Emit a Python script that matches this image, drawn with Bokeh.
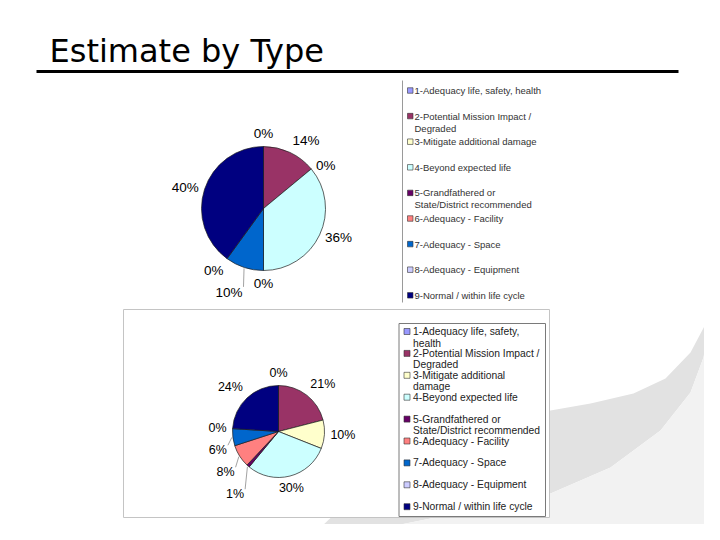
import numpy as np
from bokeh.plotting import figure
from bokeh.models import Range1d, ColumnDataSource
from bokeh.embed import file_html
from bokeh.resources import INLINE
from bokeh.core.properties import value

# ---------------- data ----------------
title = "Estimate by Type"
categories = [
    "1-Adequacy life, safety, health",
    "2-Potential Mission Impact / Degraded",
    "3-Mitigate additional damage",
    "4-Beyond expected life",
    "5-Grandfathered or State/District recommended",
    "6-Adequacy - Facility",
    "7-Adequacy - Space",
    "8-Adequacy - Equipment",
    "9-Normal / within life cycle",
]
top_values = [0, 14, 0, 36, 0, 0, 10, 0, 40]
bottom_values = [0, 21, 10, 30, 1, 8, 6, 0, 24]
top_legend_labels = [
    "1-Adequacy life, safety, health",
    "2-Potential Mission Impact /\nDegraded",
    "3-Mitigate additional damage",
    "4-Beyond expected life",
    "5-Grandfathered or\nState/District recommended",
    "6-Adequacy - Facility",
    "7-Adequacy - Space",
    "8-Adequacy - Equipment",
    "9-Normal / within life cycle",
]
bottom_legend_labels = [
    "1-Adequacy life, safety,\nhealth",
    "2-Potential Mission Impact /\nDegraded",
    "3-Mitigate additional\ndamage",
    "4-Beyond expected life",
    "5-Grandfathered or\nState/District recommended",
    "6-Adequacy - Facility",
    "7-Adequacy - Space",
    "8-Adequacy - Equipment",
    "9-Normal / within life cycle",
]
colors = ["#9999FF", "#993366", "#FFFFCC", "#CCFFFF", "#660066",
          "#FF8080", "#0066CC", "#CCCCFF", "#000080"]

FONT = "Liberation Sans"

# page coordinates: x to the right, y downward (converted for Bokeh)
def Y(v):
    return 540 - np.asarray(v, dtype=float)

p = figure(width=704, height=524, x_range=Range1d(0, 704), y_range=Range1d(16, 540),
           output_backend="svg", toolbar_location=None, min_border=0,
           x_axis_location=None, y_axis_location=None, outline_line_color=None,
           background_fill_color="white", border_fill_color="white")
p.grid.visible = False

# ---------------- slide decoration (hazard border + page curl) ----------------
p.quad(left=[270], right=[730], top=[Y(225)], bottom=[Y(550)],
       fill_color="#F39224", line_color=None)
sx, sy = [], []
for x0 in np.arange(60, 900, 30):
    sx.append([x0, x0 + 420])
    sy.append(list(Y([560, 140])))
p.multi_line(xs=sx, ys=sy, line_color="#141414", line_width=10)

page_x = [0, 720, 720, 716, 712, 710, 710, 370, 330, 300, 0]
page_y = [0, 0, 245, 268, 295, 320, 527, 527, 534, 540, 540]
p.patch(page_x, Y(page_y), fill_color="white", line_color=None)

band_x = [720, 713, 707, 690, 665, 633, 590, 550, 470, 380, 320, 400, 480, 550, 610, 660, 690, 703, 712]
band_y = [250, 300, 320, 352, 378, 393, 403, 410, 430, 470, 527, 524, 508, 493, 467, 430, 392, 357, 300]
p.patch(band_x, Y(band_y), fill_color="#e2e2e2", line_color=None)
low_x = [400, 480, 550, 610, 660, 690, 703, 708, 708, 400]
low_y = [524, 508, 493, 467, 430, 392, 357, 340, 527, 527]
p.patch(low_x, Y(low_y), fill_color="#f2f2f2", line_color=None)
p.line([709, 709, 370], Y([330, 527, 527]), line_color="#c4c4c4", line_width=3)
p.line([708, 708, 370], Y([330, 526, 526]), line_color="#a0a0a0", line_width=1)

# ---------------- title ----------------
p.text(x=[49], y=[Y(50)], text=[title], text_font=value("DejaVu Sans"),
       text_font_size=value("32px"), text_color="black",
       text_baseline="middle", text_align="left")
p.line([36, 678], Y([71, 71]), line_color="black", line_width=3)

# ---------------- bottom chart frames ----------------
p.quad(left=[123], right=[549], top=[Y(309)], bottom=[Y(517)],
       fill_color="white", line_color="#c4c4c4", line_width=1)
p.quad(left=[398.5], right=[545], top=[Y(323)], bottom=[Y(516)],
       fill_color="white", line_color="#7a7a7a", line_width=1)
# top legend left border
p.line([402, 402], Y([80, 302]), line_color="#9a9a9a", line_width=1)


def draw_pie(cx, cy, r, vals, fs, gap=22):
    vals = np.asarray(vals, dtype=float)
    frac = vals / vals.sum()
    cum = np.concatenate([[0.0], np.cumsum(frac)])
    a0 = np.pi / 2 - 2 * np.pi * cum[:-1]
    a1 = np.pi / 2 - 2 * np.pi * cum[1:]
    keep = vals > 0
    n = int(keep.sum())
    src = ColumnDataSource(dict(x=[cx] * n, y=list(Y([cy] * n)), s=list(a0[keep]),
                                e=list(a1[keep]), c=[c for c, k in zip(colors, keep) if k]))
    p.wedge(x="x", y="y", radius=r, start_angle="s", end_angle="e", direction="clock",
            fill_color="c", line_color="#1e1e1e", line_width=0.7, source=src)

    mid = np.pi * (cum[:-1] + cum[1:])
    sn, cs = np.sin(mid), np.cos(mid)
    ra = r + 6
    ax = cx + ra * sn
    ay = cy - ra * cs
    half = fs * 0.5
    ly = np.where(cs > 0.7, ay - half, np.where(cs < -0.7, ay + half, ay))
    align = ["left" if s > 0.25 else ("right" if s < -0.25 else "center") for s in sn]
    pushed = ly.copy()
    prev = None
    for i in np.argsort(ly, kind="stable"):
        if sn[i] >= -0.25:
            continue
        if prev is not None and pushed[i] < pushed[prev] + gap:
            pushed[i] = pushed[prev] + gap
        prev = i
    texts = [f"{int(round(f * 100))}%" for f in frac]
    drawn = []
    lx, lyy, lt, la = [], [], [], []
    for i in range(len(vals)):
        if any(abs(ax[i] - dx) < 4 and abs(pushed[i] - dy) < 4 for dx, dy in drawn):
            continue
        drawn.append((ax[i], pushed[i]))
        lx.append(ax[i]); lyy.append(pushed[i]); lt.append(texts[i]); la.append(align[i])
        if pushed[i] - ly[i] > 4:
            p.line([cx + (r + 1) * sn[i], ax[i] + 1], Y([cy - (r + 1) * cs[i], pushed[i] - fs * 0.4]),
                   line_color="#8a8a8a", line_width=0.8)
    src2 = ColumnDataSource(dict(x=lx, y=list(Y(lyy)), t=lt, a=la))
    p.text(x="x", y="y", text="t", text_align="a", text_baseline="middle",
           text_font=value(FONT), text_font_size=value(f"{fs}px"), text_color="black", source=src2)


def draw_legend(xm, ms, xt, y0, pitch, gap, items, fs, tcolor):
    rx, ry, tx, ty, tt = [], [], [], [], []
    for i, item in enumerate(items):
        y = y0 + pitch * i
        rx.append(xm + ms / 2); ry.append(y)
        for k, line in enumerate(item.split("\n")):
            tx.append(xt); ty.append(y + k * gap); tt.append(line)
    p.rect(x=rx, y=list(Y(ry)), width=ms, height=ms, fill_color=colors,
           line_color="#333333", line_width=0.6)
    p.text(x=tx, y=list(Y(ty)), text=tt, text_font=value(FONT), text_font_size=value(f"{fs}px"),
           text_color=tcolor, text_baseline="middle", text_align="left")


draw_pie(263, 208, 62, top_values, 13.5)
draw_pie(278, 431, 46, bottom_values, 12.5)
draw_legend(407, 5.5, 414, 90, 25.6, 12, top_legend_labels, 9.5, "#333333")
draw_legend(403.5, 6, 412.5, 331, 21.9, 11.5, bottom_legend_labels, 10.3, "#222222")

open("out.html", "w").write(file_html(p, INLINE))
